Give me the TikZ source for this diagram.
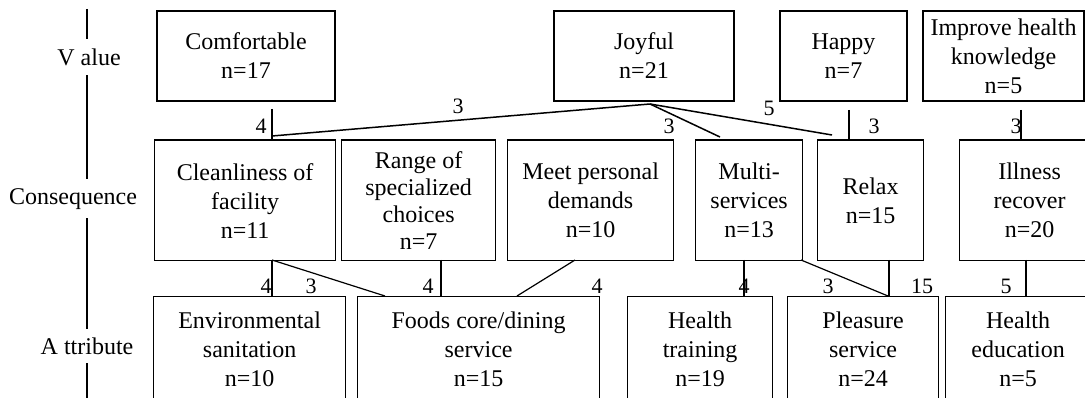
\documentclass[tikz,border=0pt]{standalone}
\usepackage{fontspec}
\setmainfont{Liberation Serif}
\usetikzlibrary{calc}

\begin{document}
\begin{tikzpicture}[x=1pt, y=-1pt,
    every node/.style={font=\fontsize{24}{29}\selectfont},
    valbox/.style={draw, line width=2pt, anchor=north west, align=center,
                   minimum height=90pt, inner sep=1pt},
    consbox/.style={draw, line width=1.2pt, anchor=north west, align=center,
                    minimum height=120pt, inner sep=1pt},
    attrbox/.style={draw, line width=1.2pt, anchor=north west, align=center,
                    minimum height=106pt, inner sep=1pt},
    level/.style={fill=white, inner xsep=2pt, inner ysep=9pt},
    wt/.style={font=\fontsize{22}{26}\selectfont, inner sep=0pt},
    axis/.style={line width=1.6pt},
    stem/.style={line width=2pt},
    ray/.style={line width=1.5pt},
    link/.style={line width=1.2pt}]

    % Page frame (the attribute boxes run off the lower edge)
    \fill[white] (0,0) rectangle (1085,398);
    \useasboundingbox (0,0) rectangle (1085,398);
    \clip (0,0) rectangle (1085,398);

    % Level axis with its three names
    \draw[axis] (87,9) -- (87,398);
    \node[level] (lvlValue) at (89,57) {V alue};
    \node[level] (lvlCons)  at (73,199) {Consequence};
    \node[level] (lvlAttr)  at (87,346) {A ttribute};

    % Values
    \node[valbox, minimum width=178pt] (comfort)   at (156,10) {Comfortable\\n=17};
    \node[valbox, minimum width=180pt] (joyful)    at (553,10) {Joyful\\n=21};
    \node[valbox, minimum width=127pt] (happy)     at (779,10) {Happy\\n=7};
    \node[valbox, minimum width=161pt] (knowledge) at (922,10) {Improve health\\knowledge\\n=5};

    % Consequences
    \node[consbox, minimum width=181pt] (clean)   at (154,140) {Cleanliness of\\facility\\n=11};
    \node[consbox, minimum width=154pt, font=\fontsize{24}{27}\selectfont]
          (range) at (341,140) {Range of\\specialized\\choices\\n=7};
    \node[consbox, minimum width=166pt] (demand)  at (507,140) {Meet personal\\demands\\n=10};
    \node[consbox, minimum width=107pt] (multi)   at (695,140) {Multi-\\services\\n=13};
    \node[consbox, minimum width=106pt] (relax)   at (817,140) {Relax\\n=15};
    \node[consbox, minimum width=140pt] (illness) at (959,140) {Illness\\recover\\n=20};
    \foreach \n in {clean,range,demand,multi,relax,illness}
        \draw[line width=2pt] (\n.north west) -- (\n.north east);

    % Attributes
    \node[attrbox, minimum width=192pt] (sanit)    at (153,296) {Environmental\\sanitation\\n=10};
    \node[attrbox, minimum width=242pt] (food)     at (357,296) {Foods core/dining\\service\\n=15};
    \node[attrbox, minimum width=145pt] (train)    at (627,296) {Health\\training\\n=19};
    \node[attrbox, minimum width=151pt] (pleasure) at (787,296) {Pleasure\\service\\n=24};
    \node[attrbox, minimum width=145pt] (educ)     at (945,296) {Health\\education\\n=5};

    % Ends of the links
    \coordinate (comfortFoot) at (272,109);
    \coordinate (joyHub)      at (650,104);
    \coordinate (happyFoot)   at (849,110);
    \coordinate (knowFoot)    at (1021,110);
    \coordinate (cleanIn)     at (272,136);
    \coordinate (multiIn)     at (720,137);
    \coordinate (relaxIn)     at (832,135);
    \coordinate (cleanOut)    at (272,260);
    \coordinate (rangeOut)    at (441,260);
    \coordinate (demandOut)   at (575,260);
    \coordinate (multiOut)    at (744,260);
    \coordinate (multiCorner) at (801,260);
    \coordinate (relaxOut)    at (889,260);
    \coordinate (illnessOut)  at (1026,260);
    \coordinate (foodIn)      at (385,296);
    \coordinate (foodIn2)     at (517,296);
    \coordinate (pleasureIn)  at (888,296);

    % Value -> consequence
    \draw[stem] (comfortFoot) -- (comfortFoot |- clean.north);
    \draw[ray]  (joyHub) -- (cleanIn);
    \draw[ray]  (joyHub) -- (multiIn);
    \draw[ray]  (joyHub) -- (relaxIn);
    \draw[stem] (happyFoot) -- (happyFoot |- relax.north);
    \draw[stem] (knowFoot) -- (knowFoot |- illness.north);
    \node[wt] (wComfort) at (261,126)  {4};
    \node[wt] (wJoyClean) at (458,106) {3};
    \node[wt] (wJoyMulti) at (669,126) {3};
    \node[wt] (wJoyRelax) at (769,108) {5};
    \node[wt] (wHappy)   at (874,126)  {3};
    \node[wt] (wKnow)    at (1016,126) {3};

    % Consequence -> attribute
    \draw[link] (cleanOut) -- (cleanOut |- sanit.north);
    \draw[link] (cleanOut) -- (foodIn);
    \draw[link] (rangeOut) -- (rangeOut |- food.north);
    \draw[link] (demandOut) -- (foodIn2);
    \draw[link] (multiOut) -- (multiOut |- train.north);
    \draw[link] (multiCorner) -- (pleasureIn);
    \draw[link] (relaxOut) -- (relaxOut |- pleasure.north);
    \draw[link] (illnessOut) -- (illnessOut |- educ.north);
    \node[wt] (wCleanSan)  at (266,286)  {4};
    \node[wt] (wCleanFood) at (311,286)  {3};
    \node[wt] (wRange)     at (428,286)  {4};
    \node[wt] (wDemand)    at (597,286)  {4};
    \node[wt] (wMultiTr)   at (744,286)  {4};
    \node[wt] (wMultiPl)   at (828,286)  {3};
    \node[wt] (wRelax)     at (922,286)  {15};
    \node[wt] (wIllness)   at (1006,286) {5};
\end{tikzpicture}
\end{document}
